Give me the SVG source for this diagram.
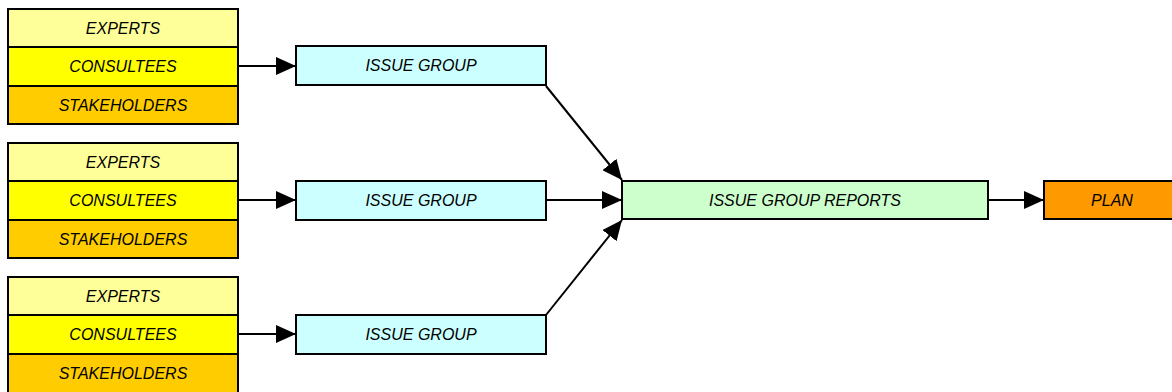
<svg xmlns="http://www.w3.org/2000/svg" width="1172" height="392" viewBox="0 0 1172 392">
<defs>
<style>
.b{stroke:#000;stroke-width:2}
text{font-family:"Liberation Sans",Arial,sans-serif;font-size:16px;font-style:italic;fill:#000;text-anchor:middle;dominant-baseline:central}
.ex{fill:#FFFF99}.co{fill:#FFFF00}.st{fill:#FFCC00}.ig{fill:#CCFFFF}.rp{fill:#CCFFCC}.pl{fill:#FF9900}
.c{stroke:#000;stroke-width:2;fill:none;marker-end:url(#ah)}
</style>
<marker id="ah" markerUnits="userSpaceOnUse" markerWidth="20" markerHeight="18" refX="20" refY="9" orient="auto" viewBox="0 0 20 18">
<path d="M0,0 L20,9 L0,18 Z" fill="#000"/>
</marker>
</defs>
<rect x="0" y="0" width="1172" height="392" fill="#fff"/>
<g id="stack1">
<rect class="b ex" x="8" y="9" width="230" height="38"/><text x="123" y="28">EXPERTS</text>
<rect class="b co" x="8" y="47" width="230" height="39"/><text x="123" y="66.5">CONSULTEES</text>
<rect class="b st" x="8" y="86" width="230" height="38"/><text x="123" y="105">STAKEHOLDERS</text>
</g>
<g id="stack2">
<rect class="b ex" x="8" y="143" width="230" height="38"/><text x="123" y="162">EXPERTS</text>
<rect class="b co" x="8" y="181" width="230" height="39"/><text x="123" y="200.5">CONSULTEES</text>
<rect class="b st" x="8" y="220" width="230" height="38"/><text x="123" y="239">STAKEHOLDERS</text>
</g>
<g id="stack3">
<rect class="b ex" x="8" y="277" width="230" height="38"/><text x="123" y="296">EXPERTS</text>
<rect class="b co" x="8" y="315" width="230" height="39"/><text x="123" y="334.5">CONSULTEES</text>
<rect class="b st" x="8" y="354" width="230" height="40"/><text x="123" y="373">STAKEHOLDERS</text>
</g>
<g id="issue1"><rect class="b ig" x="296" y="46" width="250" height="39"/><text x="421" y="65.5">ISSUE GROUP</text></g>
<g id="issue2"><rect class="b ig" x="296" y="181" width="250" height="39"/><text x="421" y="200.5">ISSUE GROUP</text></g>
<g id="issue3"><rect class="b ig" x="296" y="315" width="250" height="39"/><text x="421" y="334.5">ISSUE GROUP</text></g>
<g id="reports"><rect class="b rp" x="622" y="181" width="366" height="38"/><text x="805" y="200">ISSUE GROUP REPORTS</text></g>
<g id="plan"><rect class="b pl" x="1044" y="181" width="134" height="38"/><text x="1112" y="200">PLAN</text></g>
<g id="connectors">
<line class="c" x1="238" y1="66" x2="296" y2="66"/>
<line class="c" x1="238" y1="200" x2="296" y2="200"/>
<line class="c" x1="238" y1="334" x2="296" y2="334"/>
<line class="c" x1="546" y1="86" x2="622" y2="180"/>
<line class="c" x1="546" y1="200" x2="622" y2="200"/>
<line class="c" x1="546" y1="315" x2="622" y2="220"/>
<line class="c" x1="988" y1="200" x2="1044" y2="200"/>
</g>
</svg>
